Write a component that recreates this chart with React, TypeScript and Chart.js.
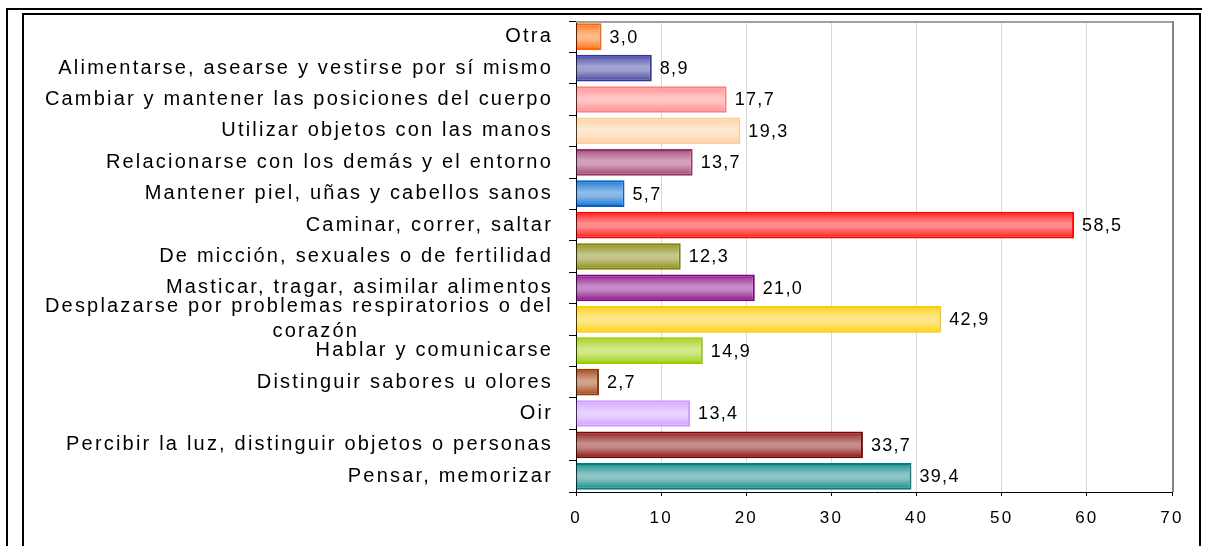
import { useEffect, useRef } from 'react';
import { Chart, registerables } from 'chart.js';

Chart.register(...registerables);

const FONT = "'Liberation Sans', Arial, sans-serif";

const categories: (string | string[])[] = [
  'Otra',
  'Alimentarse, asearse y vestirse por sí mismo',
  'Cambiar y mantener las posiciones del cuerpo',
  'Utilizar objetos con las manos',
  'Relacionarse con los demás y el entorno',
  'Mantener piel, uñas y cabellos sanos',
  'Caminar, correr, saltar',
  'De micción, sexuales o de fertilidad',
  'Masticar, tragar, asimilar alimentos',
  ['Desplazarse por problemas respiratorios o del', 'corazón' + ' '.repeat(25)],
  'Hablar y comunicarse',
  'Distinguir sabores u olores',
  'Oir',
  'Percibir la luz, distinguir objetos o personas',
  'Pensar, memorizar',
];

const values = [3.0, 8.9, 17.7, 19.3, 13.7, 5.7, 58.5, 12.3, 21.0, 42.9, 14.9, 2.7, 13.4, 33.7, 39.4];

const barColors = [
  '#FF6600', '#333399', '#FF8080', '#FFCC99', '#993366',
  '#0066CC', '#FF0000', '#808000', '#800080', '#FFCC00',
  '#99CC00', '#993300', '#CC99FF', '#800000', '#008080',
];

const xTicks = [0, 10, 20, 30, 40, 50, 60, 70];

const BAR_PCT = 0.85;

function mix(hex: string, t: number): string {
  const n = parseInt(hex.slice(1), 16);
  const r = (n >> 16) & 255, g = (n >> 8) & 255, b = n & 255;
  const m = (c: number) => Math.round(c + (255 - c) * t);
  return `rgb(${m(r)},${m(g)},${m(b)})`;
}

const framePlugin = {
  id: 'plotFrame',
  beforeDraw(chart: any) {
    (chart.ctx as any).letterSpacing = '2.2px';
  },
  beforeDatasetsDraw(chart: any) {
    const { ctx, chartArea } = chart;
    const { left, right, top, bottom } = chartArea;
    ctx.save();
    ctx.strokeStyle = '#A0A0A0';
    ctx.lineWidth = 2;
    ctx.beginPath();
    ctx.moveTo(left, top + 1);
    ctx.lineTo(right + 2, top + 1);
    ctx.stroke();
    ctx.strokeStyle = '#858585';
    ctx.beginPath();
    ctx.moveTo(right + 1, top);
    ctx.lineTo(right + 1, bottom);
    ctx.stroke();
    ctx.restore();
  },
  afterDatasetsDraw(chart: any) {
    const { ctx } = chart;
    const meta = chart.getDatasetMeta(0);
    ctx.save();
    (ctx as any).letterSpacing = '1.3px';
    ctx.fillStyle = '#000';
    ctx.font = `18px ${FONT}`;
    ctx.textAlign = 'left';
    ctx.textBaseline = 'middle';
    meta.data.forEach((el: any, i: number) => {
      const txt = values[i].toFixed(1).replace('.', ',');
      ctx.fillText(txt, el.x + 8, el.y + 1);
    });
    ctx.restore();
    (ctx as any).letterSpacing = '2.2px';
  },
};

export default function App() {
  const ref = useRef<HTMLCanvasElement>(null);

  useEffect(() => {
    const canvas = ref.current;
    if (!canvas) return;
    const chart = new Chart(canvas, {
      type: 'bar',
      data: {
        labels: categories as any,
        datasets: [
          {
            data: values,
            borderColor: barColors,
            borderWidth: 2,
            borderSkipped: 'start',
            barPercentage: BAR_PCT,
            categoryPercentage: 1,
            backgroundColor: (c: any) => {
              const base = barColors[c.dataIndex ?? 0] || '#888888';
              const ch = c.chart;
              const area = ch.chartArea;
              const ys = ch.scales && ch.scales.y;
              if (!area || !ys || c.type !== 'data') return base;
              const yc = ys.getPixelForValue(c.dataIndex);
              const half = ((area.bottom - area.top) / categories.length) * BAR_PCT / 2;
              const g = ch.ctx.createLinearGradient(0, yc - half, 0, yc + half);
              g.addColorStop(0, base);
              g.addColorStop(0.15, mix(base, 0.28));
              g.addColorStop(0.45, mix(base, 0.56));
              g.addColorStop(0.6, mix(base, 0.52));
              g.addColorStop(0.87, mix(base, 0.22));
              g.addColorStop(1, base);
              return g;
            },
          },
        ],
      },
      options: {
        indexAxis: 'y',
        responsive: false,
        animation: false,
        events: [],
        devicePixelRatio: 1,
        layout: { padding: { top: 21, right: 34, left: 0, bottom: 0 } },
        plugins: {
          legend: { display: false },
          tooltip: { enabled: false },
        },
        scales: {
          x: {
            type: 'linear',
            min: 0,
            max: 70,
            afterBuildTicks: (s: any) => {
              s.ticks = xTicks.map((v) => ({ value: v }));
            },
            afterFit: (s: any) => {
              s.height = 54;
              s.paddingLeft = 0;
              s.paddingRight = 0;
            },
            ticks: {
              color: '#000',
              font: { family: FONT, size: 17 },
              padding: 12,
              maxRotation: 0,
              autoSkip: false,
            },
            grid: {
              color: (c: any) => (c.tick && c.tick.value === 70 ? 'rgba(0,0,0,0)' : '#D9D9D9'),
              tickColor: '#000',
              tickLength: 4,
              lineWidth: 1,
            },
            border: { display: true, color: '#000', width: 1 },
          },
          y: {
            type: 'category',
            afterFit: (s: any) => {
              s.width = 576;
              s.paddingTop = 0;
              s.paddingBottom = 0;
            },
            ticks: {
              color: '#000',
              font: { family: FONT, size: 20, lineHeight: 25 / 20 },
              padding: 16,
              autoSkip: false,
            },
            grid: {
              offset: true,
              drawOnChartArea: false,
              drawTicks: true,
              tickLength: 7,
              color: '#000',
            },
            border: { display: true, color: '#000', width: 1 },
          },
        },
      } as any,
      plugins: [framePlugin],
    });
    return () => chart.destroy();
  }, []);

  return (
    <div
      style={{
        position: 'fixed',
        left: 0,
        top: 0,
        width: 1206,
        height: 546,
        background: '#fff',
        overflow: 'hidden',
      }}
    >
      <canvas
        ref={ref}
        width={1206}
        height={546}
        style={{ position: 'absolute', left: 0, top: 0, width: 1206, height: 546 }}
      />
      <div
        style={{
          position: 'absolute',
          left: 6,
          top: 8,
          width: 1196,
          height: 600,
          borderTop: '2px solid #000',
          borderLeft: '2px solid #000',
          boxSizing: 'border-box',
          pointerEvents: 'none',
        }}
      />
      <div
        style={{
          position: 'absolute',
          left: 22,
          top: 13,
          width: 1179,
          height: 600,
          borderTop: '2px solid #000',
          borderLeft: '2px solid #000',
          borderRight: '2px solid #000',
          boxSizing: 'border-box',
          pointerEvents: 'none',
        }}
      />
    </div>
  );
}
